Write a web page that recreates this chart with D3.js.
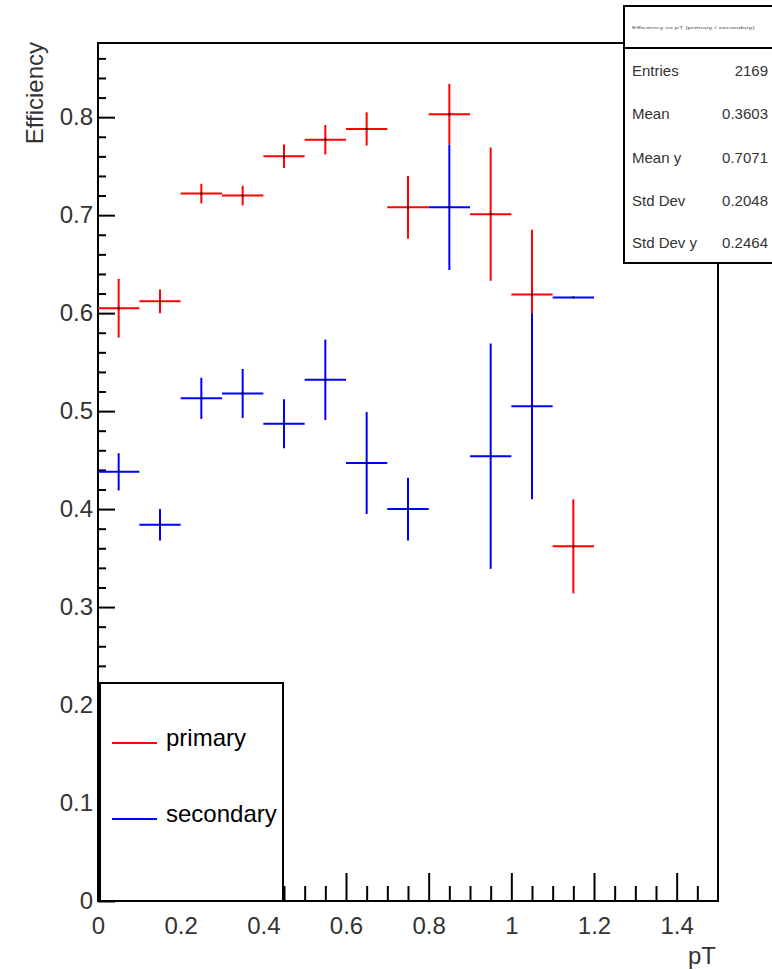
<!DOCTYPE html>
<html>
<head>
<meta charset="utf-8">
<script src="https://cdn.jsdelivr.net/npm/d3@7"></script>
<style>
  html, body { margin: 0; padding: 0; background: #fff; }
  svg { display: block; font-family: "Liberation Sans", Arial, Helvetica, sans-serif; }
</style>
</head>
<body>
<svg id="chart" width="772" height="970"></svg>
<script>
// Bin centres (pT) and half-width of each bin
const binCenters = [0.05, 0.15, 0.25, 0.35, 0.45, 0.55, 0.65, 0.75, 0.85, 0.95, 1.05, 1.15];
const binHalfWidth = 0.05;

// Efficiency for primary tracks and its error
const primaryEff = [0.605, 0.612, 0.722, 0.720, 0.760, 0.777, 0.788, 0.708, 0.803, 0.701, 0.619, 0.362];
const primaryErr = [0.030, 0.012, 0.010, 0.010, 0.012, 0.015, 0.017, 0.032, 0.031, 0.068, 0.066, 0.048];

// Efficiency for secondary tracks and its error
const secondaryEff = [0.438, 0.384, 0.513, 0.518, 0.487, 0.532, 0.447, 0.400, 0.708, 0.454, 0.505, 0.616];
const secondaryErr = [0.019, 0.016, 0.021, 0.025, 0.025, 0.041, 0.052, 0.032, 0.064, 0.115, 0.095, 0.000];

// Axis ticks
const xMajorTicks = [0, 0.2, 0.4, 0.6, 0.8, 1.0, 1.2, 1.4];
const xMinorTicks = [0.05, 0.1, 0.15, 0.25, 0.3, 0.35, 0.45, 0.5, 0.55, 0.65, 0.7, 0.75, 0.85, 0.9, 0.95,
                     1.05, 1.1, 1.15, 1.25, 1.3, 1.35, 1.45];
const yMajorTicks = [0, 0.1, 0.2, 0.3, 0.4, 0.5, 0.6, 0.7, 0.8];
const yMinorTicks = [0.02, 0.04, 0.06, 0.08, 0.12, 0.14, 0.16, 0.18, 0.22, 0.24, 0.26, 0.28,
                     0.32, 0.34, 0.36, 0.38, 0.42, 0.44, 0.46, 0.48, 0.52, 0.54, 0.56, 0.58,
                     0.62, 0.64, 0.66, 0.68, 0.72, 0.74, 0.76, 0.78, 0.82, 0.84, 0.86];

// Statistics box content
const statsTitle = "Efficiency vs pT (primary / secondary)";
const statsLabels = ["Entries", "Mean", "Mean y", "Std Dev", "Std Dev y"];
const statsValues = ["2169", "0.3603", "0.7071", "0.2048", "0.2464"];

// Legend
const legendNames = ["primary", "secondary"];
const legendColors = ["#ff0000", "#0000ff"];

const svg = d3.select("#chart");
const frame = { left: 98, right: 718, top: 43, bottom: 901 };

const x = d3.scaleLinear().domain([0, 1.5]).range([frame.left, frame.right]);
const y = d3.scaleLinear().domain([0, 0.8757]).range([frame.bottom, frame.top]);

const fmt = d3.format("~g");
const labelFont = "24px";

// Frame
svg.append("rect")
  .attr("x", frame.left).attr("y", frame.top)
  .attr("width", frame.right - frame.left).attr("height", frame.bottom - frame.top)
  .attr("fill", "none").attr("stroke", "#000").attr("stroke-width", 2);

// Y axis: major and minor ticks drawn inward
const yAxisMajor = svg.append("g").attr("transform", `translate(${frame.left},0)`)
  .call(d3.axisLeft(y).tickValues(yMajorTicks).tickSize(-17).tickPadding(5).tickFormat(fmt));
const yAxisMinor = svg.append("g").attr("transform", `translate(${frame.left},0)`)
  .call(d3.axisLeft(y).tickValues(yMinorTicks).tickSize(-8).tickFormat(""));

// X axis
const xAxisMajor = svg.append("g").attr("transform", `translate(0,${frame.bottom})`)
  .call(d3.axisBottom(x).tickValues(xMajorTicks).tickSize(-28).tickPadding(16).tickFormat(fmt));
const xAxisMinor = svg.append("g").attr("transform", `translate(0,${frame.bottom})`)
  .call(d3.axisBottom(x).tickValues(xMinorTicks).tickSize(-15).tickFormat(""));

[yAxisMajor, yAxisMinor, xAxisMajor, xAxisMinor].forEach(g => {
  g.select(".domain").remove();
  g.selectAll(".tick line").attr("stroke", "#000").attr("stroke-width", 2);
  g.selectAll(".tick text").attr("fill", "#333").style("font-size", labelFont)
    .style("font-family", "'Liberation Sans', Arial, sans-serif");
});

// Axis titles
svg.append("text")
  .attr("x", frame.right - 2).attr("y", 964)
  .attr("text-anchor", "end").attr("fill", "#333")
  .style("font-size", labelFont).text("pT");

svg.append("text")
  .attr("transform", `translate(43,${frame.top - 1}) rotate(-90)`)
  .attr("text-anchor", "end").attr("fill", "#333")
  .style("font-size", labelFont).text("Efficiency");

// Error-bar markers
function drawSeries(vals, errs, color) {
  const g = svg.append("g");
  const pts = binCenters.map((c, i) => ({ c, v: vals[i], e: errs[i] }));
  g.selectAll("line.h").data(pts).join("line")
    .attr("x1", d => x(d.c - binHalfWidth)).attr("x2", d => x(d.c + binHalfWidth))
    .attr("y1", d => y(d.v)).attr("y2", d => y(d.v))
    .attr("stroke", color).attr("stroke-width", 2);
  g.selectAll("line.v").data(pts.filter(d => d.e > 0)).join("line")
    .attr("x1", d => x(d.c)).attr("x2", d => x(d.c))
    .attr("y1", d => y(d.v - d.e)).attr("y2", d => y(d.v + d.e))
    .attr("stroke", color).attr("stroke-width", 2);
  g.selectAll("rect.dot").data(pts).join("rect")
    .attr("x", d => x(d.c) - 1).attr("y", d => y(d.v) - 1)
    .attr("width", 2).attr("height", 2).attr("fill", "#000");
}
drawSeries(primaryEff, primaryErr, legendColors[0]);
drawSeries(secondaryEff, secondaryErr, legendColors[1]);

// Legend box
const legend = svg.append("g");
legend.append("rect")
  .attr("x", 100).attr("y", 683).attr("width", 183).attr("height", 218)
  .attr("fill", "#fff").attr("stroke", "#000").attr("stroke-width", 2);
const legendRows = [743, 819];
legendNames.forEach((name, i) => {
  legend.append("line")
    .attr("x1", 112).attr("x2", 157)
    .attr("y1", legendRows[i]).attr("y2", legendRows[i])
    .attr("stroke", legendColors[i]).attr("stroke-width", 2);
  legend.append("text")
    .attr("x", 166).attr("y", legendRows[i] + 3)
    .attr("fill", "#000").style("font-size", "24px").text(name);
});

// Statistics box
const stats = svg.append("g");
stats.append("rect")
  .attr("x", 624).attr("y", 6).attr("width", 160).attr("height", 257)
  .attr("fill", "#fff").attr("stroke", "#000").attr("stroke-width", 2);
stats.append("line")
  .attr("x1", 624).attr("x2", 784).attr("y1", 48).attr("y2", 48)
  .attr("stroke", "#000").attr("stroke-width", 2);
stats.append("text")
  .attr("x", 632).attr("y", 28.5)
  .attr("textLength", 123).attr("lengthAdjust", "spacingAndGlyphs")
  .attr("fill", "#555").style("font-size", "4px").text(statsTitle);
const statRows = [70, 113, 157, 200, 242];
statsLabels.forEach((lab, i) => {
  stats.append("text")
    .attr("x", 632).attr("y", statRows[i] + 5.5)
    .attr("fill", "#333").style("font-size", "15px").text(lab);
  stats.append("text")
    .attr("x", 768).attr("y", statRows[i] + 5.5)
    .attr("text-anchor", "end")
    .attr("fill", "#333").style("font-size", "15px").text(statsValues[i]);
});
</script>
</body>
</html>
